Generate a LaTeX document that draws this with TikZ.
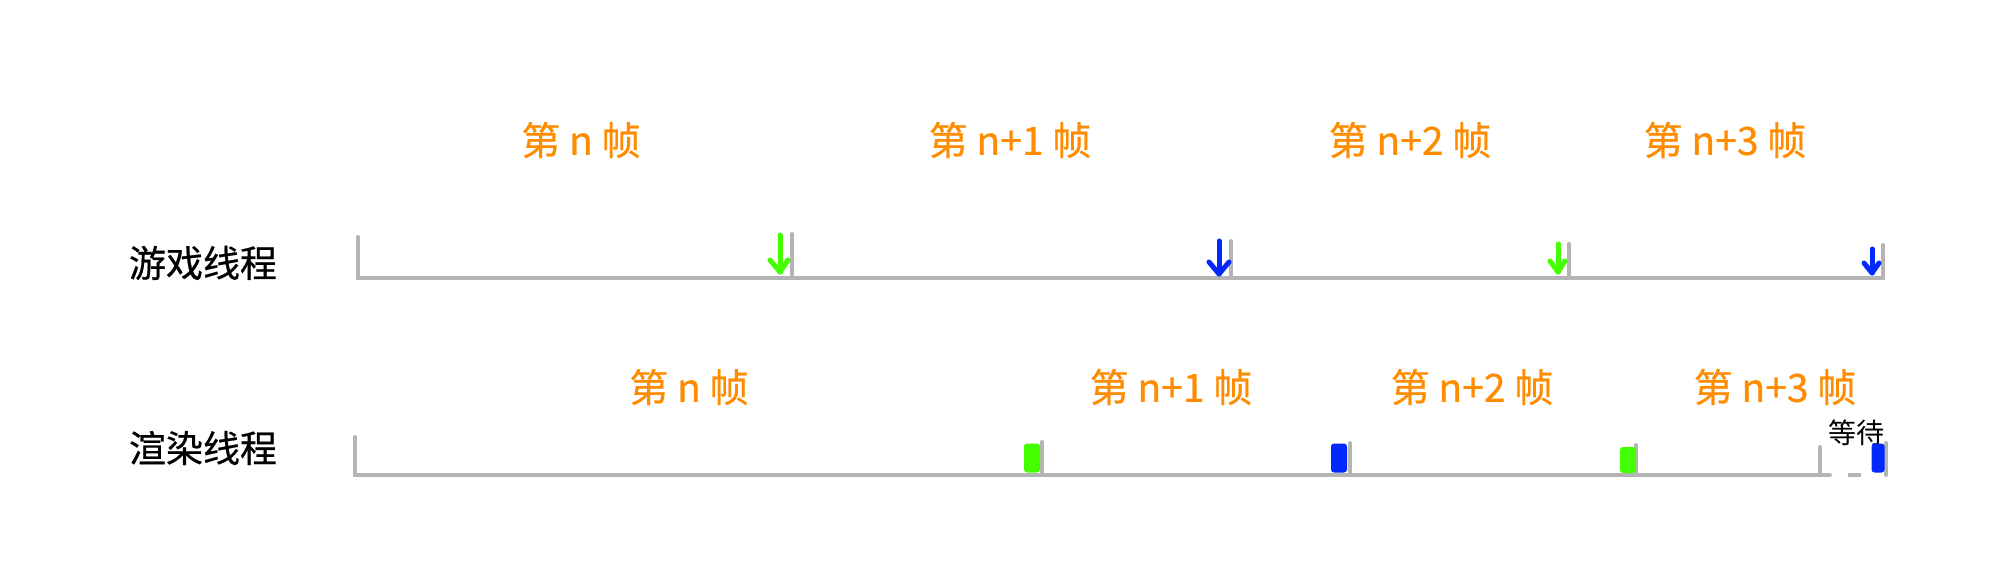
\documentclass[tikz,border=0pt]{standalone}
\usepackage{fontspec}
\newfontfamily\cjk[FakeBold=0.6]{Noto Sans CJK SC}
\newfontfamily\cjkthin{Noto Sans CJK SC}
\definecolor{lineg}{RGB}{180,180,180}
\definecolor{orng}{RGB}{255,140,0}
\definecolor{grn}{RGB}{68,255,0}
\definecolor{blu}{RGB}{0,40,255}
\begin{document}
\begin{tikzpicture}[x=1pt,y=-1pt,
  tl/.style={draw=lineg,line width=4pt,line cap=round},
  frm/.style={text=orng,font=\cjk\fontsize{39}{44}\selectfont,inner sep=0pt},
  thr/.style={text=black,font=\cjk\fontsize{37}{42}\selectfont,inner sep=0pt},
  small/.style={text=black,font=\cjkthin\fontsize{28}{32}\selectfont,inner sep=0pt},
  mk/.style={line width=5pt,line cap=round,line join=round},
  blk/.style={rounded corners=3pt,minimum width=16pt,minimum height=29pt,inner sep=0pt}]
\useasboundingbox (0,0) rectangle (1990,572);
% labels
\node[thr] (gt) at (203,263) {游戏线程};
\node[thr] (rt) at (203,448) {渲染线程};
\node[frm] (t0) at (581,140) {第 n 帧};
\node[frm] (t1) at (1010,140) {第 n+1 帧};
\node[frm] (t2) at (1410,140) {第 n+2 帧};
\node[frm] (t3) at (1725,140) {第 n+3 帧};
\node[frm] (b0) at (689,387) {第 n 帧};
\node[frm] (b1) at (1171,387) {第 n+1 帧};
\node[frm] (b2) at (1472,387) {第 n+2 帧};
\node[frm] (b3) at (1775,387) {第 n+3 帧};
% top timeline
\coordinate (g0) at (358,278); \coordinate (g4) at (1883,278);
\draw[tl] (358,237) -- (g0) -- (g4) -- (1883,245);
\draw[tl] (792,234) -- (792,278);
\draw[tl] (1231,241) -- (1231,278);
\draw[tl] (1569,244) -- (1569,278);
% top arrows
\coordinate (ga1) at (780,272); \coordinate (ba1) at (1219,274);
\coordinate (ga2) at (1558,272); \coordinate (ba2) at (1872,273);
\draw[mk,grn] (ga1) ++(0,-37) -- (ga1); \draw[mk,grn] (ga1) ++(-10,-12) -- (ga1) -- ++(8,-12);
\draw[mk,blu] (ba1) ++(0,-33) -- (ba1); \draw[mk,blu] (ba1) ++(-10,-12) -- (ba1) -- ++(10,-12);
\draw[mk,grn] (ga2) ++(0,-28) -- (ga2); \draw[mk,grn] (ga2) ++(-8,-11) -- (ga2) -- ++(7,-11);
\draw[mk,blu] (ba2) ++(0,-24) -- (ba2); \draw[mk,blu] (ba2) ++(-8,-10) -- (ba2) -- ++(7,-10);
% bottom timeline
\coordinate (r0) at (355,475); \coordinate (r4) at (1830,475);
\draw[tl] (355,437) -- (r0) -- (r4);
\draw[tl] (1042,442) -- (1042,475);
\draw[tl] (1350,443) -- (1350,475);
\draw[tl] (1636,445) -- (1636,475);
\draw[tl] (1820,447) -- (1820,475);
\draw[tl,line cap=butt] (1848,475) -- (1861,475);
\draw[tl] (1886,443) -- (1886,475);
\node[small] (wait) at (1856,433) {等待};
% blocks
\node[blk,fill=grn] (gb1) at (1032,458) {};
\node[blk,fill=blu] (bb1) at (1339,458) {};
\node[blk,fill=grn,minimum height=26pt] (gb2) at (1628,460) {};
\node[blk,fill=blu,minimum width=13pt] (bb2) at (1878,458) {};
\end{tikzpicture}
\end{document}
